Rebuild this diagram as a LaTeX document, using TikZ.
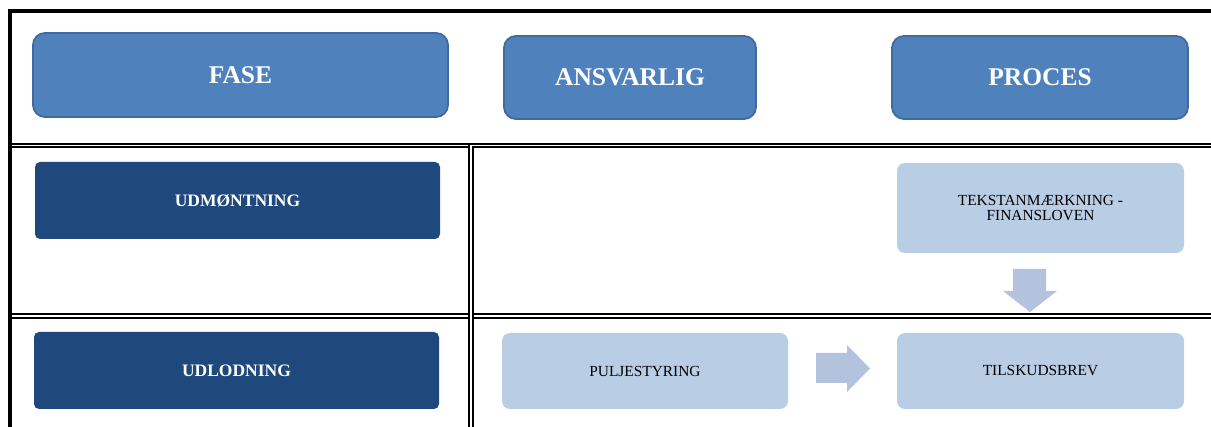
\documentclass[tikz,border=0pt]{standalone}
\usepackage{fontspec}
\setmainfont{Liberation Serif}
\definecolor{hdrfill}{HTML}{4F81BD}
\definecolor{hdrdraw}{HTML}{41699B}
\definecolor{darkfill}{HTML}{1F497D}
\definecolor{lightfill}{HTML}{B9CDE5}
\definecolor{arrowfill}{HTML}{B3C3DE}
\tikzset{
  hdr/.style={rounded corners=12pt, fill=hdrfill, draw=hdrdraw, line width=1.8pt,
    text=white, font=\fontsize{25.5}{30}\selectfont\bfseries, inner sep=0pt},
  darkbox/.style={rounded corners=5pt, fill=darkfill, text=white,
    font=\fontsize{17.5}{20}\selectfont\bfseries, inner sep=0pt,
    minimum width=405pt, minimum height=77pt},
  lightbox/.style={rounded corners=8pt, fill=lightfill, text=black,
    font=\fontsize{15.4}{15}\selectfont, inner sep=0pt, align=center,
    minimum height=76pt},
  blockarrow/.style={fill=arrowfill, draw=none},
  rule/.style={line width=#1, black}
}
\begin{document}
\begin{tikzpicture}[x=1pt,y=-1pt]
\useasboundingbox (0,0) rectangle (1211,427);
% frame
\draw[rule=3.5pt] (7.5,11) -- (1211,11);
\draw[rule=4pt] (9.5,9.25) -- (9.5,427);
\draw[rule=2pt] (11.5,143.7) -- (1211,143.7);
\draw[rule=1.5pt] (11.5,146.9) -- (468,146.9);
\draw[rule=1.5pt] (473.5,146.9) -- (1211,146.9);
\draw[rule=2pt] (469,142.7) -- (469,427);
\draw[rule=1.8pt] (472.6,146.2) -- (472.6,427);
\draw[rule=2pt] (11.5,314.3) -- (468,314.3);
\draw[rule=2pt] (473.5,314.3) -- (1211,314.3);
\draw[rule=1.7pt] (11.5,317.7) -- (468,317.7);
\draw[rule=1.7pt] (473.5,317.7) -- (1211,317.7);
% headers
\node[hdr, minimum width=415pt, minimum height=84pt] (fase) at (240.5,75) {FASE};
\node[hdr, minimum width=252pt, minimum height=83pt] (ansvarlig) at (630,77.5) {ANSVARLIG};
\node[hdr, minimum width=296pt, minimum height=83pt] (proces) at (1040,77.5) {PROCES};
% phases
\node[darkbox] (udm) at (237.5,200.5) {UDMØNTNING};
\node[darkbox] (udl) at (236.5,370.5) {UDLODNING};
% process boxes
\node[lightbox, minimum width=287pt, minimum height=90pt] (tekst) at (1040.5,208) {TEKSTANMÆRKNING -\\FINANSLOVEN};
\node[lightbox, minimum width=287pt] (tilskud) at (1040.5,371) {TILSKUDSBREV};
\node[lightbox, minimum width=286pt] (pulje) at (645,371) {PULJESTYRING};
% block arrows
\fill[blockarrow] (1013,269) -- (1046,269) -- (1046,291) -- (1057,291) -- (1030,312) -- (1003,291) -- (1013,291) -- cycle;
\fill[blockarrow] (816,353) -- (847,353) -- (847,345) -- (870,368.5) -- (847,392) -- (847,383) -- (816,383) -- cycle;
\end{tikzpicture}
\end{document}
